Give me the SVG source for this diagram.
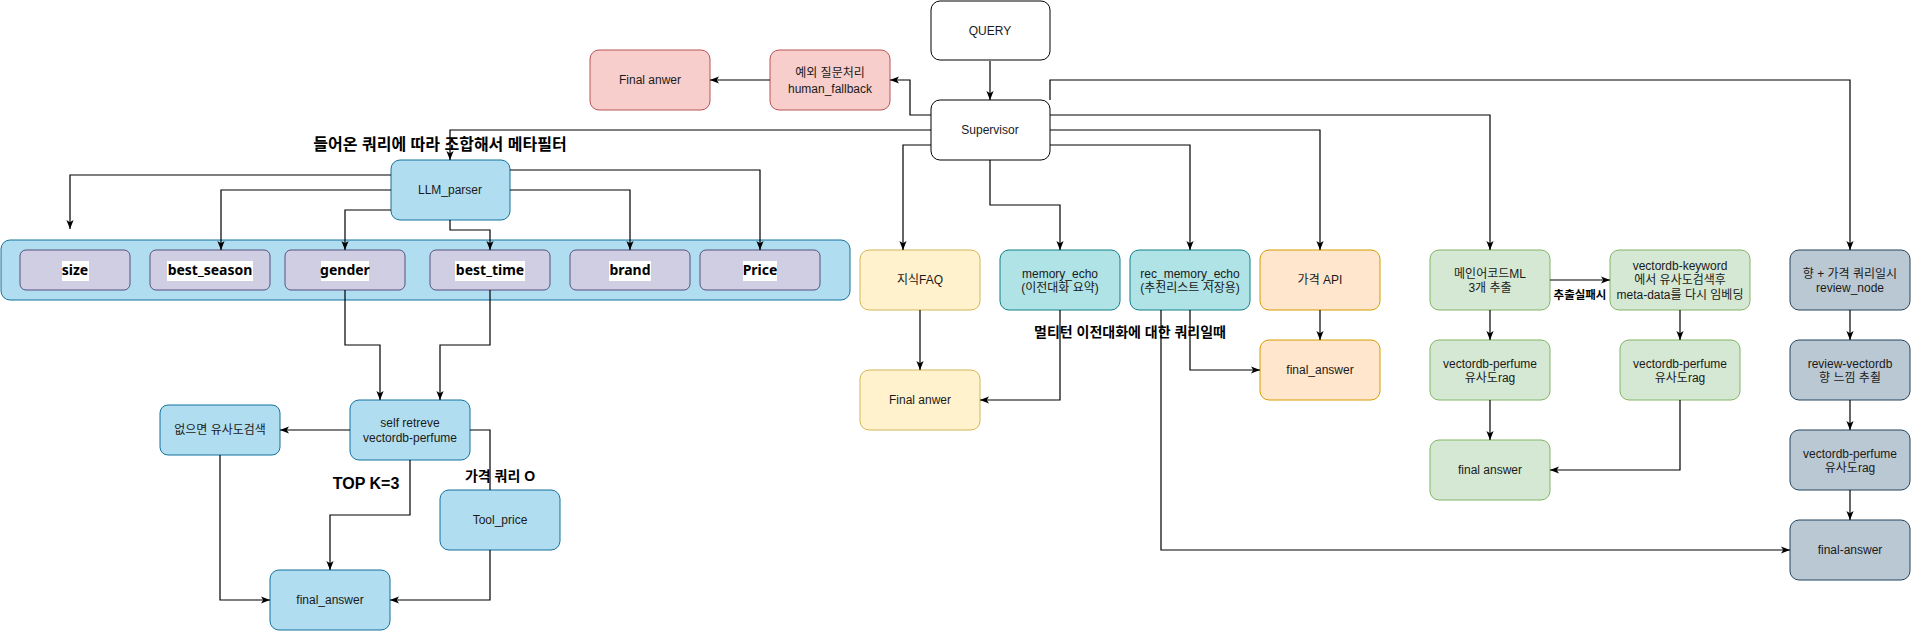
<svg xmlns="http://www.w3.org/2000/svg" width="1911" height="631" viewBox="0 0 1911 631">
<defs>
<marker id="arr" viewBox="0 0 10 10" refX="10" refY="5" markerWidth="9" markerHeight="9" orient="auto" markerUnits="userSpaceOnUse">
<path d="M0,1 L10,5 L0,9 L2.5,5 z" fill="#000"/>
</marker>
<style>
text{font-family:"Liberation Sans","Noto Sans CJK KR",sans-serif;font-size:12px;fill:#1a1a1a;text-anchor:middle}
.b{font-weight:bold;fill:#000}
.l16{font-size:16px}
.l14{font-size:14px}
.p{font-family:"Noto Sans","Noto Sans CJK KR",sans-serif;font-size:14px;font-weight:bold;fill:#000}
.plain{fill:#fff;stroke:#000;stroke-width:1}
.red{fill:#f8cecc;stroke:#b85450}
.blue{fill:#b1ddf0;stroke:#10739e}
.pur{fill:#d0cee2;stroke:#56517e}
.yel{fill:#fff2cc;stroke:#d6b656}
.teal{fill:#b0e3e6;stroke:#0e8088}
.org{fill:#ffe6cc;stroke:#d79b00}
.grn{fill:#d5e8d4;stroke:#82b366}
.gry{fill:#bac8d3;stroke:#23445d}
.wb{fill:#fff;stroke:none}
#edges path{fill:none;stroke:#000;stroke-width:1.2}
#edges path.a{marker-end:url(#arr)}
</style>
</defs>
<rect width="1911" height="631" fill="#fff"/>

<g id="query"><rect class="plain" x="931" y="1" width="119" height="59" rx="9"/><text x="990" y="35">QUERY</text></g>
<g id="supervisor"><rect class="plain" x="931" y="100" width="119" height="60" rx="9"/><text x="990" y="134">Supervisor</text></g>
<g id="human_fallback"><rect class="red" x="770" y="50" width="120" height="60" rx="9"/><text x="830" y="77">예외 질문처리</text><text x="830" y="93">human_fallback</text></g>
<g id="final_red"><rect class="red" x="590" y="50" width="120" height="60" rx="9"/><text x="650" y="84">Final anwer</text></g>

<g id="llm_parser"><rect class="blue" x="391" y="160" width="119" height="60" rx="9"/><text x="450" y="194">LLM_parser</text></g>

<g id="meta_container"><rect class="blue" x="1" y="240" width="849" height="60" rx="9"/></g>
<g id="size"><rect class="pur" x="20" y="250" width="110" height="40" rx="6"/><rect class="wb" x="62" y="261" width="27" height="20"/><text class="p" x="75" y="275">size</text></g>
<g id="best_season"><rect class="pur" x="150" y="250" width="120" height="40" rx="6"/><rect class="wb" x="167" y="261" width="86" height="20"/><text class="p" x="210" y="275">best_season</text></g>
<g id="gender"><rect class="pur" x="285" y="250" width="120" height="40" rx="6"/><rect class="wb" x="321" y="261" width="48" height="20"/><text class="p" x="345" y="275">gender</text></g>
<g id="best_time"><rect class="pur" x="430" y="250" width="120" height="40" rx="6"/><rect class="wb" x="455" y="261" width="70" height="20"/><text class="p" x="490" y="275">best_time</text></g>
<g id="brand"><rect class="pur" x="570" y="250" width="120" height="40" rx="6"/><rect class="wb" x="609" y="261" width="42" height="20"/><text class="p" x="630" y="275">brand</text></g>
<g id="price"><rect class="pur" x="700" y="250" width="120" height="40" rx="6"/><rect class="wb" x="743" y="261" width="34" height="20"/><text class="p" x="760" y="275">Price</text></g>

<g id="self_retreve"><rect class="blue" x="350" y="400" width="120" height="60" rx="9"/><text x="410" y="427">self retreve</text><text x="410" y="442">vectordb-perfume</text></g>
<g id="similar_search"><rect class="blue" x="160" y="405" width="120" height="50" rx="8"/><text x="220" y="434">없으면 유사도검색</text></g>
<g id="tool_price"><rect class="blue" x="440" y="490" width="120" height="60" rx="9"/><text x="500" y="524">Tool_price</text></g>
<g id="final_answer_blue"><rect class="blue" x="270" y="570" width="120" height="60" rx="9"/><text x="330" y="604">final_answer</text></g>

<g id="faq"><rect class="yel" x="860" y="250" width="120" height="60" rx="9"/><text x="920" y="284">지식FAQ</text></g>
<g id="final_yellow"><rect class="yel" x="860" y="370" width="120" height="60" rx="9"/><text x="920" y="404">Final anwer</text></g>
<g id="memory_echo"><rect class="teal" x="1000" y="250" width="120" height="60" rx="9"/><text x="1060" y="278">memory_echo</text><text x="1060" y="292">(이전대화 요약)</text></g>
<g id="rec_memory_echo"><rect class="teal" x="1130" y="250" width="120" height="60" rx="9"/><text x="1190" y="278">rec_memory_echo</text><text x="1190" y="292">(추천리스트 저장용)</text></g>
<g id="price_api"><rect class="org" x="1260" y="250" width="120" height="60" rx="9"/><text x="1320" y="284">가격 API</text></g>
<g id="final_orange"><rect class="org" x="1260" y="340" width="120" height="60" rx="9"/><text x="1320" y="374">final_answer</text></g>

<g id="main_accord"><rect class="grn" x="1430" y="250" width="120" height="60" rx="9"/><text x="1490" y="278">메인어코드ML</text><text x="1490" y="292">3개 추출</text></g>
<g id="vectordb_keyword"><rect class="grn" x="1610" y="250" width="140" height="60" rx="9"/><text x="1680" y="270">vectordb-keyword</text><text x="1680" y="284">에서 유사도검색후</text><text x="1680" y="299">meta-data를 다시 임베딩</text></g>
<g id="vp_green1"><rect class="grn" x="1430" y="340" width="120" height="60" rx="9"/><text x="1490" y="368">vectordb-perfume</text><text x="1490" y="382">유사도rag</text></g>
<g id="vp_green2"><rect class="grn" x="1620" y="340" width="120" height="60" rx="9"/><text x="1680" y="368">vectordb-perfume</text><text x="1680" y="382">유사도rag</text></g>
<g id="final_green"><rect class="grn" x="1430" y="440" width="120" height="60" rx="9"/><text x="1490" y="474">final answer</text></g>

<g id="review_node"><rect class="gry" x="1790" y="250" width="120" height="60" rx="9"/><text x="1850" y="278">향 + 가격 쿼리일시</text><text x="1850" y="292">review_node</text></g>
<g id="review_vectordb"><rect class="gry" x="1790" y="340" width="120" height="60" rx="9"/><text x="1850" y="368">review-vectordb</text><text x="1850" y="382">향 느낌 추췰</text></g>
<g id="vp_gray"><rect class="gry" x="1790" y="430" width="120" height="60" rx="9"/><text x="1850" y="458">vectordb-perfume</text><text x="1850" y="472">유사도rag</text></g>
<g id="final_gray"><rect class="gry" x="1790" y="520" width="120" height="60" rx="9"/><text x="1850" y="554">final-answer</text></g>

<g id="edges">
<path class="a" d="M990,61 L990,100"/>
<path class="a" d="M931,115 L910,115 L910,80 L890,80"/>
<path class="a" d="M770,80 L710,80"/>
<path class="a" d="M931,130 L450,130 L450,160"/>
<path class="a" d="M931,145 L903,145 L903,250"/>
<path class="a" d="M990,160 L990,205 L1060,205 L1060,250"/>
<path class="a" d="M1050,145 L1190,145 L1190,250"/>
<path class="a" d="M1050,130 L1320,130 L1320,250"/>
<path class="a" d="M1050,115 L1490,115 L1490,250"/>
<path class="a" d="M1050,100 L1050,80 L1850,80 L1850,250"/>
<path class="a" d="M391,175 L70,175 L70,229"/>
<path class="a" d="M391,190 L221,190 L221,250"/>
<path class="a" d="M391,210 L345,210 L345,250"/>
<path class="a" d="M450,220 L450,230 L490,230 L490,250"/>
<path class="a" d="M510,190 L630,190 L630,250"/>
<path class="a" d="M510,170 L760,170 L760,250"/>
<path class="a" d="M345,290 L345,345 L380,345 L380,400"/>
<path class="a" d="M490,290 L490,345 L440,345 L440,400"/>
<path class="a" d="M350,430 L280,430"/>
<path class="a" d="M410,460 L410,515 L330,515 L330,570"/>
<path class="a" d="M220,455 L220,600 L270,600"/>
<path d="M470,430 L490,430 L490,490"/>
<path class="a" d="M490,550 L490,600 L390,600"/>
<path class="a" d="M920,310 L920,370"/>
<path class="a" d="M1060,310 L1060,400 L980,400"/>
<path class="a" d="M1190,310 L1190,370 L1260,370"/>
<path class="a" d="M1161,310 L1161,550 L1790,550"/>
<path class="a" d="M1320,310 L1320,340"/>
<path class="a" d="M1550,280 L1610,280"/>
<path class="a" d="M1490,310 L1490,340"/>
<path class="a" d="M1680,310 L1680,340"/>
<path class="a" d="M1490,400 L1490,440"/>
<path class="a" d="M1680,400 L1680,470 L1550,470"/>
<path class="a" d="M1850,310 L1850,340"/>
<path class="a" d="M1850,400 L1850,430"/>
<path class="a" d="M1850,490 L1850,520"/>
</g>

<g id="labels">
<text class="b l16" x="440" y="150">들어온 쿼리에 따라 조합해서 메타필터</text>
<text class="b l16" x="366" y="489">TOP K=3</text>
<text class="b l14" x="500" y="481">가격 쿼리 O</text>
<text class="b l14" x="1130" y="337">멀티턴 이전대화에 대한 쿼리일때</text>
<text class="b" style="font-size:11.5px" x="1580" y="299">추출실패시</text>
</g>
</svg>
